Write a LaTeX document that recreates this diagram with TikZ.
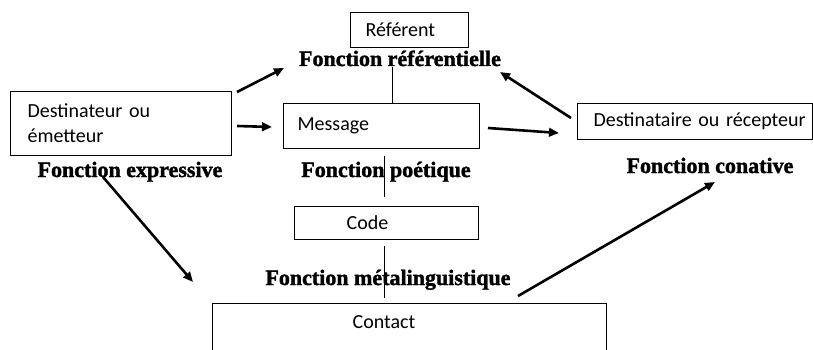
\documentclass[tikz,border=0pt]{standalone}
\usepackage{fontspec}
\newfontfamily\boxfont{Carlito}
\newfontfamily\lblfont{Liberation Serif}[BoldFeatures={FakeBold=1.6}]
\usetikzlibrary{arrows.meta,calc}
\begin{document}
\begin{tikzpicture}[x=1pt,y=-1pt,
  box/.style={draw, line width=1.2pt, rectangle, anchor=north west, inner ysep=0pt,
    align=left, font=\boxfont\fontsize{20}{25}\selectfont},
  lbl/.style={anchor=base, inner sep=0pt, font=\lblfont\bfseries\fontsize{22}{26}\selectfont},
  arr/.style={line width=2.6pt, -{Triangle[length=10pt,width=8.5pt]}},
  link/.style={line width=1pt}]
\useasboundingbox (0,0) rectangle (813,350);
\clip (0,0) rectangle (813,350);
% boxes
\node[box, inner xsep=15pt, text width=88pt, minimum height=35pt] (ref) at (350,12) {Référent};
\node[box, inner xsep=14pt, text width=168pt, minimum height=45pt] (msg) at (283,103) {Message};
\node[box, inner xsep=17pt, text width=187pt, minimum height=64pt] (dest) at (10,91) {Destinateur ou\\émetteur};
\node[box, inner xsep=16pt, text width=203pt, minimum height=36pt] (rec) at (577,103) {\mbox{Destinataire ou récepteur}};
\node[box, inner xsep=52pt, text width=80pt, minimum height=33pt] (code) at (294,206) {Code};
\node[box, inner xsep=140pt, text width=114pt, inner ysep=12pt, text depth=60pt] (contact) at (212,303) {Contact};
% labels
\node[lbl] (lref) at (400,66) {Fonction référentielle};
\node[lbl] (lexp) at (130,177) {Fonction expressive};
\node[lbl] (lpoe) at (386,177) {Fonction poétique};
\node[lbl] (lcon) at (710,173) {Fonction conative};
\node[lbl] (lmet) at (388,285) {Fonction métalinguistique};
% vertical links
\coordinate (v1) at (392,67);
\coordinate (v2) at (384,155);
\draw[link] (v1) -- (v1 |- msg.north);
\draw[link] ($(msg.south -| v2)+(0,7)$) -- ($(code.north -| v2)+(0,-9)$);
\draw[link] ($(code.south -| v2)+(0,6)$) -- ($(contact.north -| v2)+(0,-5)$);
% arrows
\coordinate (a1s) at (237,92);  \coordinate (a1e) at (284,68);
\coordinate (a2s) at (237,126); \coordinate (a2e) at (272,127);
\coordinate (a3s) at (488,128); \coordinate (a3e) at (559,133);
\coordinate (a4s) at (571,118); \coordinate (a4e) at (500,72);
\coordinate (a5s) at (103,177); \coordinate (a5e) at (193,282);
\coordinate (a6s) at (518,296); \coordinate (a6e) at (715,182);
\draw[arr] (a1s) -- (a1e);
\draw[arr] (a2s) -- (a2e);
\draw[arr] (a3s) -- (a3e);
\draw[arr] (a4s) -- (a4e);
\draw[arr] (a5s) -- (a5e);
\draw[arr] (a6s) -- (a6e);
\end{tikzpicture}
\end{document}
